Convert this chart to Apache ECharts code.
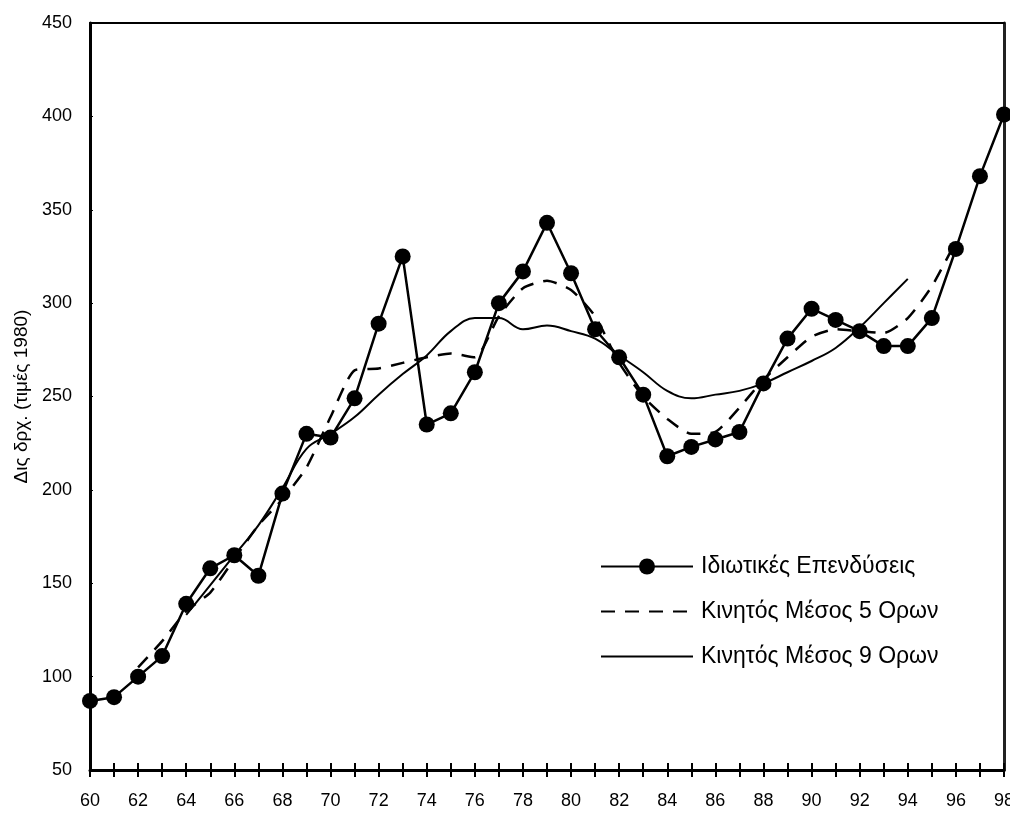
<!DOCTYPE html>
<html><head><meta charset="utf-8">
<script src="https://cdn.jsdelivr.net/npm/echarts@6/dist/echarts.min.js"></script>
<style>html,body{margin:0;padding:0;background:#fff}#c{width:1010px;height:817px}</style>
</head><body><div id="c"></div>
<script>
// Years 1960-1998 (two-digit)
const years = [60,61,62,63,64,65,66,67,68,69,70,71,72,73,74,75,76,77,78,79,80,81,82,83,84,85,86,87,88,89,90,91,92,93,94,95,96,97,98];
// Private investment (bn drachmas, 1980 prices)
const investment = [87,89,100,111,139,158,165,154,198,230,228,249,289,325,235,241,263,300,317,343,316,286,271,251,218,223,227,231,257,281,297,291,285,277,277,292,329,368,401];
// 5-term moving average (62-96)
const ma5 = [null,null,105,119,135,145,163,181,195,212,239,264,265,268,271,273,271,293,308,312,307,293,268,250,238,230,231,244,259,271,282,286,285,284,292,309,333,null,null];
// 9-term moving average (64-94)
const ma9 = [null,null,null,null,133,149,165,181,201,222,230,239,251,262,272,285,292,292,286,288,285,281,272,263,253,249,251,253,257,263,269,276,287,300,313,null,null,null,null];
const xTickLabels = ['60','62','64','66','68','70','72','74','76','78','80','82','84','86','88','90','92','94','96','98'];
const seriesNames = ['Ιδιωτικές Επενδύσεις','Κινητός Μέσος 5 Ορων','Κινητός Μέσος 9 Ορων'];
const yAxisTitle = 'Δις δρχ. (τιμές 1980)';

const pairs = arr => years.map((y, i) => [y, arr[i]]).filter(p => p[1] !== null);
const FONT = "'Liberation Sans Narrow','Liberation Sans',Arial,sans-serif";

const chart = echarts.init(document.getElementById('c'), null, {renderer: 'canvas'});
chart.setOption({
  backgroundColor: '#fff',
  animation: false,
  grid: {left: 90, right: 6, top: 23, bottom: 47, show: false, outerBoundsMode: 'none', containLabel: false},
  legend: {
    orient: 'vertical', left: 600, top: 555, padding: 0,
    itemWidth: 92, itemHeight: 20, itemGap: 22,
    textStyle: {fontFamily: FONT, fontSize: 23, color: '#000', padding: [0, 0, 0, 3]},
    data: [
      {name: seriesNames[0]},
      {name: seriesNames[1], itemStyle: {opacity: 0}},
      {name: seriesNames[2], itemStyle: {opacity: 0}}
    ]
  },
  xAxis: [
    {type: 'value', min: 60, max: 98, interval: 1, position: 'bottom',
     axisLine: {show: true, lineStyle: {color: '#000', width: 3}},
     axisTick: {show: true, length: 7, lineStyle: {color: '#000', width: 2}},
     axisLabel: {margin: 22, fontFamily: FONT, fontSize: 18, color: '#000',
       formatter: v => xTickLabels.includes(String(v)) ? String(v) : ''},
     splitLine: {show: false}},
    {type: 'value', min: 60, max: 98, interval: 1, position: 'bottom',
     axisLine: {show: false},
     axisTick: {show: true, inside: true, length: 7, lineStyle: {color: '#000', width: 2}},
     axisLabel: {show: false}, splitLine: {show: false}},
    {type: 'value', min: 60, max: 98, position: 'top',
     axisLine: {show: true, lineStyle: {color: '#000', width: 2}},
     axisTick: {show: false}, axisLabel: {show: false}, splitLine: {show: false}}
  ],
  yAxis: [
    {type: 'value', min: 50, max: 450, interval: 50, position: 'left',
     name: yAxisTitle, nameLocation: 'middle', nameGap: 58, nameRotate: 90,
     nameTextStyle: {fontFamily: FONT, fontSize: 19, color: '#000'},
     axisLine: {show: true, lineStyle: {color: '#000', width: 3}},
     axisTick: {show: true, inside: true, length: 3, lineStyle: {color: '#000', width: 1}},
     axisLabel: {margin: 18, fontFamily: FONT, fontSize: 18, color: '#000'},
     splitLine: {show: false}},
    {type: 'value', min: 50, max: 450, interval: 50, position: 'right',
     axisLine: {show: true, lineStyle: {color: '#222', width: 3}},
     axisTick: {show: false}, axisLabel: {show: false}, splitLine: {show: false}}
  ],
  series: [
    {name: seriesNames[0], type: 'line', xAxisIndex: 0, yAxisIndex: 0,
     data: pairs(investment), symbol: 'circle', symbolSize: 16,
     itemStyle: {color: '#000'}, lineStyle: {color: '#000', width: 2.5}, z: 5},
    {name: seriesNames[1], type: 'line', xAxisIndex: 0, yAxisIndex: 0,
     data: pairs(ma5), showSymbol: false, symbol: 'none', smooth: 0.2,
     itemStyle: {color: '#000'}, lineStyle: {color: '#000', width: 2.5, type: [14, 10]}, z: 3},
    {name: seriesNames[2], type: 'line', xAxisIndex: 0, yAxisIndex: 0,
     data: pairs(ma9), showSymbol: false, symbol: 'none', smooth: 0.4,
     itemStyle: {color: '#000'}, lineStyle: {color: '#000', width: 2}, z: 4}
  ]
});
</script>
</body></html>
